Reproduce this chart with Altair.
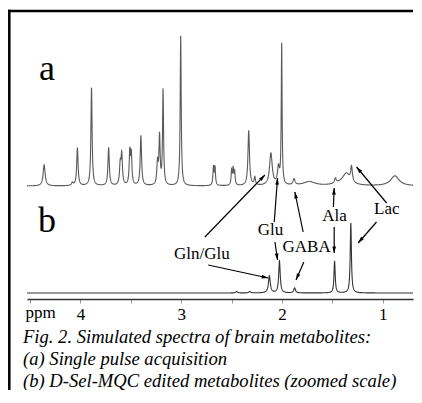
import math
import numpy as np
import pandas as pd
import altair as alt

# ---------------- data ----------------
# spectrum (a): single pulse acquisition -- peak centre (ppm), height, half width (ppm)
a_ppm    = [4.36, 4.08, 4.03, 3.89, 3.72, 3.605, 3.59, 3.51, 3.495, 3.40, 3.235, 3.215, 3.18, 3.005,
            2.68, 2.665, 2.50, 2.485, 2.47, 2.33, 2.27, 2.11, 2.035, 2.003, 1.88, 1.73, 1.47, 1.36, 1.31, 1.40, 0.88]
a_height = [21, 3, 38, 98, 38, 20, 30, 33, 30, 50, 22, 48, 95, 150,
            18, 18, 14, 16, 13, 55, 8, 32, 17, 140, 6, 4, 5, 10, 15, 3, 10]
a_width  = [0.012, 0.01, 0.008, 0.007, 0.008, 0.008, 0.008, 0.007, 0.007, 0.008, 0.008, 0.007, 0.006, 0.006,
            0.006, 0.006, 0.006, 0.006, 0.006, 0.009, 0.008, 0.016, 0.012, 0.005, 0.012, 0.07, 0.01, 0.04, 0.01, 0.08, 0.05]
a_offset = 113

# spectrum (b): D-Sel-MQC edited metabolites
b_ppm    = [2.45, 2.32, 2.125, 2.025, 1.875, 1.478, 1.317]
b_height = [1.5, 1.5, 17, 32, 5, 32, 70]
b_width  = [0.01, 0.01, 0.011, 0.009, 0.01, 0.007, 0.007]
b_offset = 6

# annotations: label, label position, arrows (tail ppm, tail level, head ppm, head level)
labels       = ["Gln/Glu", "Glu", "GABA", "Ala", "Lac"]
label_ppm    = [2.795, 2.115, 1.756, 1.478, 0.96]
label_level  = [45, 69, 52, 83, 90]

arrow_tail_ppm   = [2.765, 2.732, 2.077, 2.070, 1.790, 1.783, 1.490, 1.482, 0.962, 1.062]
arrow_tail_level = [62, 34, 77, 57, 67, 37, 92, 72, 96, 77]
arrow_head_ppm   = [2.170, 2.137, 2.044, 2.044, 1.872, 1.861, 1.482, 1.482, 1.260, 1.244]
arrow_head_level = [124, 21, 121, 39, 107, 19, 111, 46, 132, 56]

tick_values = [4.5, 4, 3.5, 3, 2.5, 2, 1.5, 1]
caption = ["Fig. 2. Simulated spectra of brain metabolites:",
           "(a) Single pulse acquisition",
           "(b) D-Sel-MQC edited metabolites (zoomed scale)"]

# ---------------- layout ----------------
PPM_MIN, PPM_MAX = 0.70, 4.53
W, H = 386, 279
SX = W / (PPM_MAX - PPM_MIN)   # px per ppm
SERIF = "Liberation Serif"

grid = np.union1d(np.round(np.arange(PPM_MIN, PPM_MAX + 1e-9, 0.0015), 5),
                  np.array(a_ppm + b_ppm))


def spectrum(centres, heights, widths, offset, name):
    x = grid
    y = np.zeros_like(x)
    for c, h, w in zip(centres, heights, widths):
        y += h / (1.0 + ((x - c) / w) ** 2)
    return pd.DataFrame({"ppm": x, "level": y + offset, "series": name})


spec = pd.concat([spectrum(a_ppm, a_height, a_width, a_offset, "a"),
                  spectrum(b_ppm, b_height, b_width, b_offset, "b")], ignore_index=True)

rows = []
for tp, tl, hp, hl in zip(arrow_tail_ppm, arrow_tail_level, arrow_head_ppm, arrow_head_level):
    dx = -(hp - tp) * SX
    dy = -(hl - tl)
    ln = math.hypot(dx, dy)
    ux, uy = dx / ln, dy / ln
    ang = math.degrees(math.atan2(dx, -dy)) % 360
    rows.append({"tp": tp, "tl": tl, "hp": hp, "hl": hl,
                 "cp": hp + 3.2 * ux / SX, "cl": hl + 3.2 * uy, "ang": ang})
arrows = pd.DataFrame(rows)
lab = pd.DataFrame({"label": labels, "ppm": label_ppm, "level": label_level})

xs = alt.Scale(domain=[PPM_MIN, PPM_MAX], reverse=True, nice=False, zero=False)
ys = alt.Scale(domain=[0, H], nice=False, zero=False)

xaxis = alt.Axis(values=tick_values, labelExpr="datum.value % 1 === 0 ? datum.value : ''",
                 tickSize=4, tickColor="#999999", tickWidth=1, domainColor="#333333", domainWidth=1.5,
                 labelFont=SERIF, labelFontSize=17, labelColor="#000000", labelPadding=3,
                 grid=False, labelFlush=False, title="")

lines = alt.Chart(spec).mark_line(strokeWidth=1.1, interpolate="linear").encode(
    x=alt.X("ppm:Q", scale=xs, axis=xaxis),
    y=alt.Y("level:Q", scale=ys, axis=None),
    color=alt.Color("series:N", scale=alt.Scale(domain=["a", "b"], range=["#5a5a5a", "#333333"]), legend=None),
    detail="series:N",
)

shafts = alt.Chart(arrows).mark_rule(color="#000000", strokeWidth=1.2).encode(
    x=alt.X("tp:Q", scale=xs), y=alt.Y("tl:Q", scale=ys), x2="hp:Q", y2="hl:Q")

heads = alt.Chart(arrows).mark_point(shape="M0,-1L0.55,1L-0.55,1Z", filled=True, color="#000000",
                                     size=45, opacity=1).encode(
    x=alt.X("cp:Q", scale=xs), y=alt.Y("cl:Q", scale=ys), angle=alt.Angle("ang:Q", scale=None))

texts = alt.Chart(lab).mark_text(font=SERIF, fontSize=17, color="#000000", baseline="middle").encode(
    x=alt.X("ppm:Q", scale=xs), y=alt.Y("level:Q", scale=ys), text="label:N")

letters = alt.Chart(pd.DataFrame({"t": ["a", "b"], "py": [60, 212]})).mark_text(
    font=SERIF, fontSize=36, color="#000000", baseline="alphabetic", align="center").encode(
    x=alt.value(20), y=alt.Y("py:Q", scale=None), text="t:N")

ppm_lbl = alt.Chart(pd.DataFrame({"t": ["ppm"]})).mark_text(
    font=SERIF, fontSize=17, color="#000000", baseline="alphabetic", align="center").encode(
    x=alt.value(13.5), y=alt.value(298), text="t:N")

cap = alt.Chart(pd.DataFrame({"t": caption, "py": [323, 345, 367]})).mark_text(
    font=SERIF, fontSize=18.6, fontStyle="italic", color="#000000", baseline="alphabetic", align="left").encode(
    x=alt.value(-4), y=alt.Y("py:Q", scale=None), text="t:N")

frame_top = alt.Chart(pd.DataFrame({"k": [0]})).mark_rule(color="#000000", strokeWidth=2.5).encode(
    x=alt.value(-19), x2=alt.value(386), y=alt.value(-9))
frame_left = alt.Chart(pd.DataFrame({"k": [0]})).mark_rule(color="#000000", strokeWidth=2.5).encode(
    x=alt.value(-17.7), y=alt.value(-10.2), y2=alt.value(372))

chart = alt.layer(lines, shafts, heads, texts, letters, ppm_lbl, cap,
                  frame_top, frame_left).properties(
    width=W, height=H,
    autosize=alt.AutoSizeParams(type="none"),
    padding={"left": 19, "top": 12, "right": 1, "bottom": 91},
    background="#ffffff",
).configure_view(stroke=None)

chart.save("out.html", embed_options={"renderer": "svg", "actions": False})
